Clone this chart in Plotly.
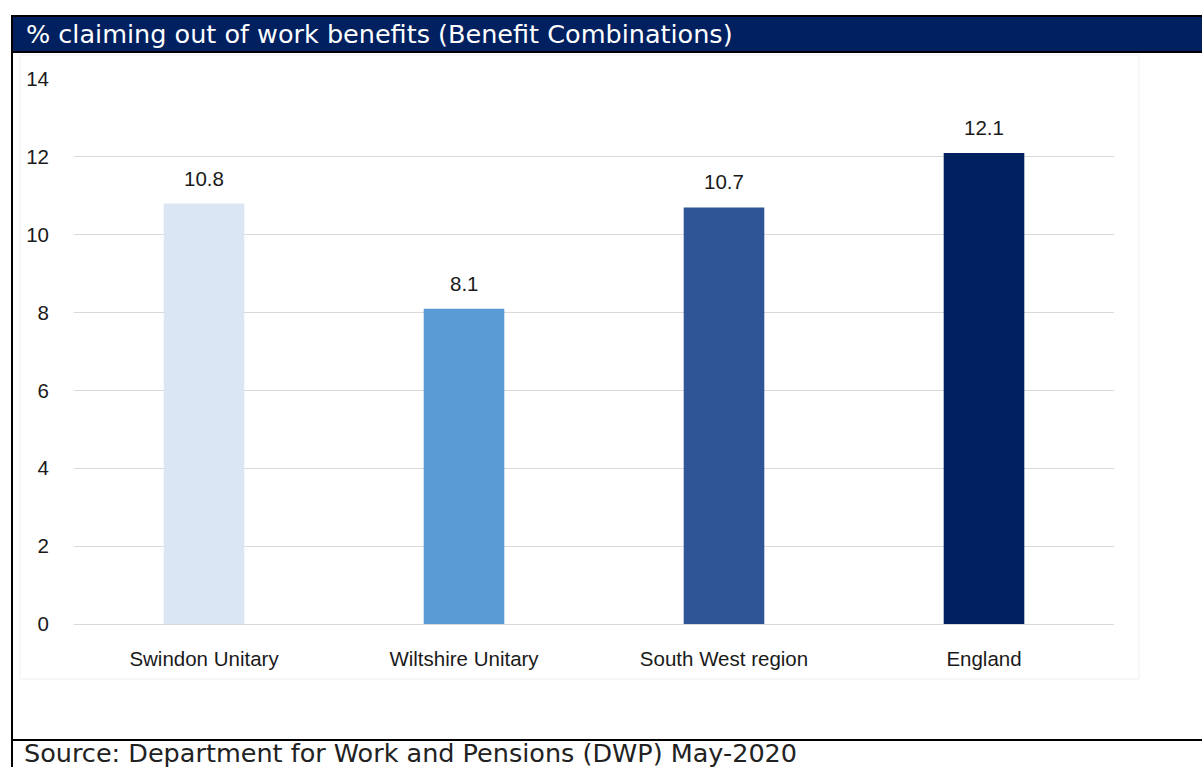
import plotly.graph_objects as go

# Out-of-work benefit claimants, % of working-age population
categories = ["Swindon Unitary", "Wiltshire Unitary", "South West region", "England"]
values = [10.8, 8.1, 10.7, 12.1]
bar_colors = ["#DAE6F4", "#5B9BD5", "#2F5597", "#002060"]
y_ticks = [0, 2, 4, 6, 8, 10, 12, 14]

title_text = "% claiming out of work benefits (Benefit Combinations)"
source_text = "Source: Department for Work and Pensions (DWP) May-2020"

W, H = 1202, 767
L, R, T, B = 74, 1114, 79, 624  # plot area in pixels


def px_x(px):
    return (px - L) / (R - L)


def px_y(py):
    return (B - py) / (B - T)


fig = go.Figure(
    go.Bar(
        x=categories,
        y=values,
        marker=dict(color=bar_colors, line=dict(width=0)),
        hoverinfo="skip",
    )
)

# value labels above each bar
for c, v in zip(categories, values):
    fig.add_annotation(
        x=c, y=v, text=f"{v:.1f}", showarrow=False,
        yanchor="bottom", yshift=12,
        font=dict(family="Liberation Sans, Arial", size=20.5, color="#1a1a1a"),
    )

shapes = [
    # faint chart frame
    dict(type="rect", xref="paper", yref="paper",
         x0=px_x(20), x1=px_x(1139), y0=px_y(679), y1=px_y(55),
         line=dict(color="#F0F0F0", width=1), fillcolor="rgba(0,0,0,0)", layer="below"),
    # header band
    dict(type="rect", xref="paper", yref="paper",
         x0=px_x(12), x1=px_x(1203), y0=px_y(52), y1=px_y(16),
         line=dict(color="#000000", width=2), fillcolor="#002060", layer="above"),
    # left border
    dict(type="line", xref="paper", yref="paper",
         x0=px_x(12), x1=px_x(12), y0=px_y(52), y1=px_y(770),
         line=dict(color="#000000", width=2)),
    # separator above source line
    dict(type="line", xref="paper", yref="paper",
         x0=px_x(12), x1=px_x(1203), y0=px_y(740), y1=px_y(740),
         line=dict(color="#000000", width=2)),
]

header_font = dict(family="DejaVu Sans", size=25.5)

fig.add_annotation(
    xref="paper", yref="paper", x=px_x(24), y=px_y(34),
    xanchor="left", yanchor="middle", showarrow=False,
    text=title_text,
    font=dict(header_font, color="#FFFFFF"),
)
fig.add_annotation(
    xref="paper", yref="paper", x=px_x(22), y=px_y(753),
    xanchor="left", yanchor="middle", showarrow=False,
    text=source_text,
    font=dict(header_font, color="#222222"),
)

fig.update_layout(
    width=W, height=H,
    margin=dict(l=L, r=W - R, t=T, b=H - B, pad=0),
    paper_bgcolor="#FFFFFF", plot_bgcolor="#FFFFFF",
    bargap=0.69,
    showlegend=False,
    shapes=shapes,
    xaxis=dict(
        showgrid=False, showline=False, zeroline=False, ticks="",
        ticklabelstandoff=20,
        tickfont=dict(family="Liberation Sans, Arial", size=20.5, color="#1a1a1a"),
    ),
    yaxis=dict(
        range=[0, 14], tickvals=y_ticks, ticks="",
        showgrid=True, gridcolor="#D9D9D9", gridwidth=1,
        zeroline=True, zerolinecolor="#D9D9D9", zerolinewidth=1,
        showline=False, ticklabelstandoff=24,
        tickfont=dict(family="Liberation Sans, Arial", size=20.5, color="#1a1a1a"),
    ),
)

fig.write_html("out.html")
